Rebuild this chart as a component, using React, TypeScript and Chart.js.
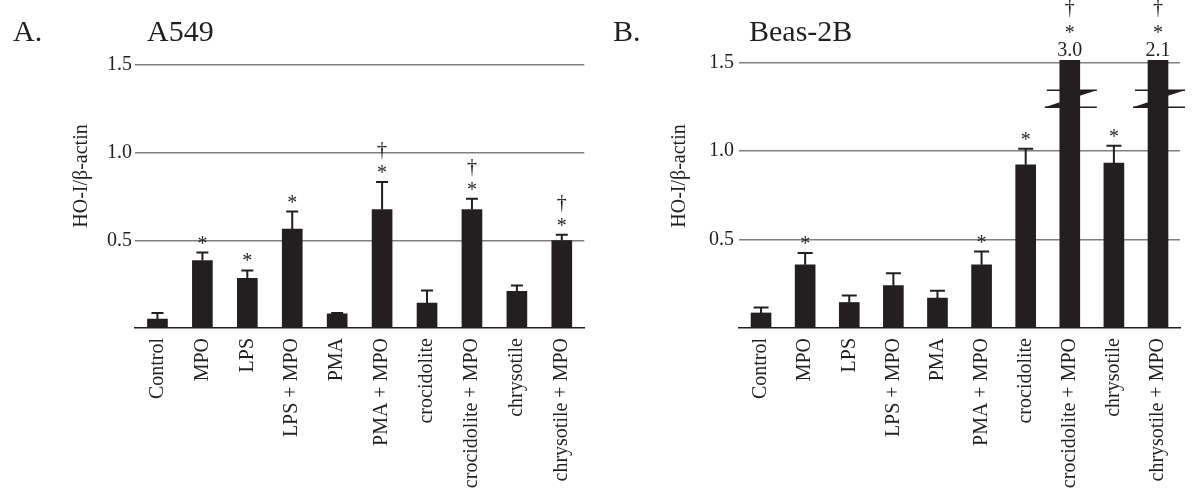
import React, { useEffect, useRef } from 'react';
import { Chart, registerables } from 'chart.js';

Chart.register(...registerables);

const categories = [
  'Control',
  'MPO',
  'LPS',
  'LPS + MPO',
  'PMA',
  'PMA + MPO',
  'crocidolite',
  'crocidolite + MPO',
  'chrysotile',
  'chrysotile + MPO',
];
const yTickValues = [0.5, 1.0, 1.5];

const a549Values = [0.051, 0.385, 0.283, 0.564, 0.081, 0.676, 0.142, 0.676, 0.209, 0.499];
const a549ErrorTops = [0.085, 0.43, 0.328, 0.664, 0.085, 0.832, 0.214, 0.737, 0.243, 0.532];
const a549Stars = [false, true, true, true, false, true, false, true, false, true];
const a549Daggers = [false, false, false, false, false, true, false, true, false, true];

const beasValues = [0.085, 0.357, 0.144, 0.239, 0.169, 0.357, 0.922, 3.0, 0.931, 2.1];
const beasErrorTops = [0.116, 0.423, 0.184, 0.31, 0.21, 0.432, 1.012, null, 1.03, null];
const beasStars = [false, true, false, false, false, true, true, true, true, true];
const beasDaggers = [false, false, false, false, false, false, false, true, false, true];

const breakUpper = 1.343;
const breakLower = 1.247;

const INK = '#231f20';
const GRID = '#808080';
const FONT = "'Liberation Serif', 'Times New Roman', serif";

type PanelCfg = {
  letter: string;
  title: string;
  yTitle: string;
  values: number[];
  errorTops: (number | null)[];
  stars: boolean[];
  daggers: boolean[];
  yMax: number;
  padTop: number;
  padRight: number;
  yAxisWidth: number;
  tickPad: number;
  capWidth: number;
  letterX: number;
  titleX: number;
  yTitleX: number;
};

function annotationPlugin(cfg: PanelCfg) {
  return {
    id: 'panelAnnotations',
    afterDatasetsDraw(chart: any) {
      const { ctx, chartArea } = chart;
      const x = chart.scales.x;
      const y = chart.scales.y;
      const meta = chart.getDatasetMeta(0);
      ctx.save();
      ctx.fillStyle = INK;
      ctx.strokeStyle = INK;
      ctx.textAlign = 'center';
      ctx.textBaseline = 'alphabetic';
      ctx.font = `20px ${FONT}`;
      cfg.values.forEach((v, i) => {
        const cx = x.getPixelForValue(i);
        const broken = v > y.max;
        const barTop = broken ? chartArea.top : y.getPixelForValue(v);
        let markBase = barTop;
        const e = cfg.errorTops[i];
        if (e != null && !broken) {
          const ey = y.getPixelForValue(e);
          ctx.lineWidth = 2;
          ctx.beginPath();
          ctx.moveTo(cx, barTop);
          ctx.lineTo(cx, ey);
          ctx.moveTo(cx - cfg.capWidth / 2, ey);
          ctx.lineTo(cx + cfg.capWidth / 2, ey);
          ctx.stroke();
          markBase = ey;
        }
        if (broken) {
          ctx.fillText(v.toFixed(1), cx, barTop - 4);
          if (cfg.stars[i]) ctx.fillText('*', cx, barTop - 21);
          if (cfg.daggers[i]) ctx.fillText('\u2020', cx, barTop - 46);
          const el = meta.data[i];
          const half = el.width / 2;
          const y1 = y.getPixelForValue(breakUpper);
          const y2 = y.getPixelForValue(breakLower);
          const l = cx - 25;
          const r = cx + 27;
          const slope = (y2 - y1) / (r - l);
          ctx.lineWidth = 1.5;
          ctx.beginPath();
          ctx.moveTo(l + 2, y1);
          ctx.lineTo(r, y1);
          ctx.moveTo(l, y2);
          ctx.lineTo(r, y2);
          ctx.stroke();
          ctx.beginPath();
          ctx.moveTo(cx + half, y1);
          ctx.lineTo(r, y1);
          ctx.lineTo(cx + half, y1 + (r - cx - half) * slope);
          ctx.closePath();
          ctx.fill();
          ctx.beginPath();
          ctx.moveTo(cx - half, y2);
          ctx.lineTo(l, y2);
          ctx.lineTo(cx - half, y2 - (cx - half - l) * slope);
          ctx.closePath();
          ctx.fill();
        } else {
          if (cfg.stars[i]) ctx.fillText('*', cx, markBase - 3);
          if (cfg.daggers[i]) ctx.fillText('\u2020', cx, markBase - 26);
        }
      });
      ctx.restore();
    },
    afterDraw(chart: any) {
      const { ctx } = chart;
      ctx.save();
      ctx.fillStyle = INK;
      ctx.textBaseline = 'alphabetic';
      ctx.textAlign = 'left';
      ctx.font = `30px ${FONT}`;
      ctx.fillText(cfg.letter, cfg.letterX, 41);
      ctx.fillText(cfg.title, cfg.titleX, 41);
      ctx.translate(cfg.yTitleX, 176);
      ctx.rotate(-Math.PI / 2);
      ctx.textAlign = 'center';
      ctx.textBaseline = 'middle';
      ctx.font = `20px ${FONT}`;
      ctx.fillText(cfg.yTitle, 0, 0);
      ctx.restore();
    },
  };
}

function makeChart(canvas: HTMLCanvasElement, cfg: PanelCfg) {
  return new Chart(canvas, {
    type: 'bar',
    data: {
      labels: categories,
      datasets: [
        {
          data: cfg.values,
          backgroundColor: INK,
          borderWidth: 0,
          barThickness: 20,
          clip: 0,
        } as any,
      ],
    },
    options: {
      animation: false,
      responsive: false,
      layout: { padding: { left: 0, right: cfg.padRight, top: cfg.padTop, bottom: 0 } },
      plugins: {
        legend: { display: false },
        tooltip: { enabled: false },
        title: { display: false },
      },
      scales: {
        x: {
          type: 'category',
          offset: true,
          grid: { display: false, drawTicks: false },
          border: { display: true, color: INK, width: 1.5 },
          ticks: {
            autoSkip: false,
            minRotation: 90,
            maxRotation: 90,
            padding: 10,
            color: INK,
            font: { family: FONT, size: 20 },
          },
          afterFit: (s: any) => {
            s.height = 174;
          },
        },
        y: {
          min: 0,
          max: cfg.yMax,
          grid: { display: true, drawTicks: false, color: GRID, lineWidth: 1.5 },
          border: { display: false },
          ticks: {
            padding: cfg.tickPad,
            color: INK,
            font: { family: FONT, size: 20 },
            callback: (v: any) => Number(v).toFixed(1),
          },
          afterBuildTicks: (s: any) => {
            s.ticks = yTickValues.map((v) => ({ value: v }));
          },
          afterFit: (s: any) => {
            s.width = cfg.yAxisWidth;
          },
        },
      },
    } as any,
    plugins: [annotationPlugin(cfg) as any],
  });
}

const panelA: PanelCfg = {
  letter: 'A.',
  title: 'A549',
  yTitle: 'HO-I/\u03b2-actin',
  values: a549Values,
  errorTops: a549ErrorTops,
  stars: a549Stars,
  daggers: a549Daggers,
  yMax: 1.5,
  padTop: 65,
  padRight: 4,
  yAxisWidth: 135,
  tickPad: 3,
  capWidth: 12,
  letterX: 13,
  titleX: 147,
  yTitleX: 82,
};

const panelB: PanelCfg = {
  letter: 'B.',
  title: 'Beas-2B',
  yTitle: 'HO-I/\u03b2-actin',
  values: beasValues,
  errorTops: beasErrorTops,
  stars: beasStars,
  daggers: beasDaggers,
  yMax: 1.514,
  padTop: 60,
  padRight: 0,
  yAxisWidth: 143,
  tickPad: 5,
  capWidth: 15,
  letterX: 17,
  titleX: 153,
  yTitleX: 84,
};

function Panel({ cfg, left }: { cfg: PanelCfg; left: number }) {
  const ref = useRef<HTMLCanvasElement | null>(null);
  useEffect(() => {
    if (!ref.current) return;
    const chart = makeChart(ref.current, cfg);
    return () => chart.destroy();
  }, [cfg]);
  return (
    <canvas
      ref={ref}
      width={596}
      height={502}
      style={{ position: 'absolute', left, top: 0, width: 596, height: 502 }}
    />
  );
}

export default function App() {
  return (
    <div
      style={{
        position: 'fixed',
        left: 0,
        top: 0,
        width: 1192,
        height: 502,
        background: '#ffffff',
        overflow: 'hidden',
      }}
    >
      <Panel cfg={panelA} left={0} />
      <Panel cfg={panelB} left={596} />
    </div>
  );
}
